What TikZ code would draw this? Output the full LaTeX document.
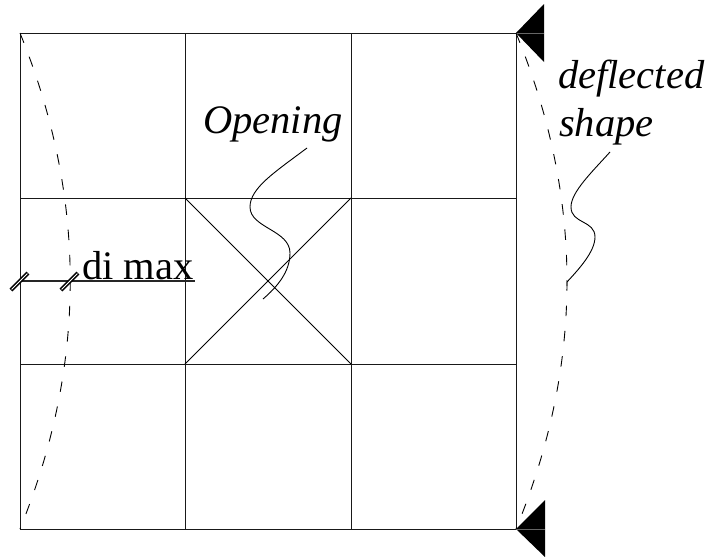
\documentclass[tikz,border=0pt]{standalone}
\usepackage{fontspec}
\setmainfont{Liberation Serif}
\begin{document}
\begin{tikzpicture}[x=1pt,y=-1pt,
  gridline/.style={line width=1pt,black!90},
  thinline/.style={line width=0.9pt,black},
  deflect/.style={line width=0.9pt,black,dash pattern=on 10.5pt off 14.9pt},
  support/.style={fill=black,draw=none},
  label/.style={inner sep=0pt,anchor=base west,font=\fontsize{40.5}{46}\selectfont},
  ilabel/.style={label,font=\fontsize{40.5}{46}\selectfont\itshape}]
\useasboundingbox (0,0) rectangle (713,557);
\fill[white] (0,0) rectangle (713,557);
% grid
\draw[gridline] (20,33) rectangle (516,529);
\draw[gridline] (185,33) -- (185,529) (351,33) -- (351,529);
\draw[gridline] (20,198) -- (516,198) (20,364) -- (516,364);
% opening
\draw[thinline] (185,198) -- (351,364) (351,198) -- (185,364);
% supports
\fill[support] (516,33) -- (544,4) -- (544,62) -- cycle;
\fill[support] (516,529) -- (545,500) -- (545,557) -- cycle;
\draw[line width=0.8pt,black!60] (516,33) -- (544,33) (516,529) -- (545,529);
% deflected shapes
\draw[deflect] (20,33) .. controls (87,198) and (87,364) .. (20,529);
\draw[deflect] (516,33) .. controls (584,198) and (584,364) .. (516,529);
% dimension
\coordinate (dA) at (20,281);
\coordinate (dB) at (195,281);
\draw[line width=1.2pt,black!85] (dA) -- (dB);
\foreach \cx in {20,70}{
  \draw[line width=4pt,black,line cap=butt] (\cx-9,290) -- (\cx+8,273);
  \draw[line width=0.8pt,white,line cap=butt] (\cx-8.4,289.4) -- (\cx+7.4,273.6);
}
% labels
\node[label] (dimax) at (82,279) {di max};
\node[ilabel] (opening) at (203,133) {Opening};
\node[ilabel] (deflected) at (558,88) {deflected};
\node[ilabel] (shape) at (559,136) {shape};
% leaders
\coordinate (L1) at (307,148);
\coordinate (L2) at (263,299);
\coordinate (R1) at (610,152);
\coordinate (R2) at (567,282);
\draw[thinline] (L1) .. controls (275,172) and (250,188) .. (250,207)
  .. controls (250,228) and (290,230) .. (290,253)
  .. controls (290,272) and (277,287) .. (L2);
\draw[thinline] (R1) .. controls (592,172) and (571,192) .. (571,207)
  .. controls (571,224) and (595,220) .. (595,237)
  .. controls (595,252) and (578,270) .. (R2) -- (567,286);
\end{tikzpicture}
\end{document}
